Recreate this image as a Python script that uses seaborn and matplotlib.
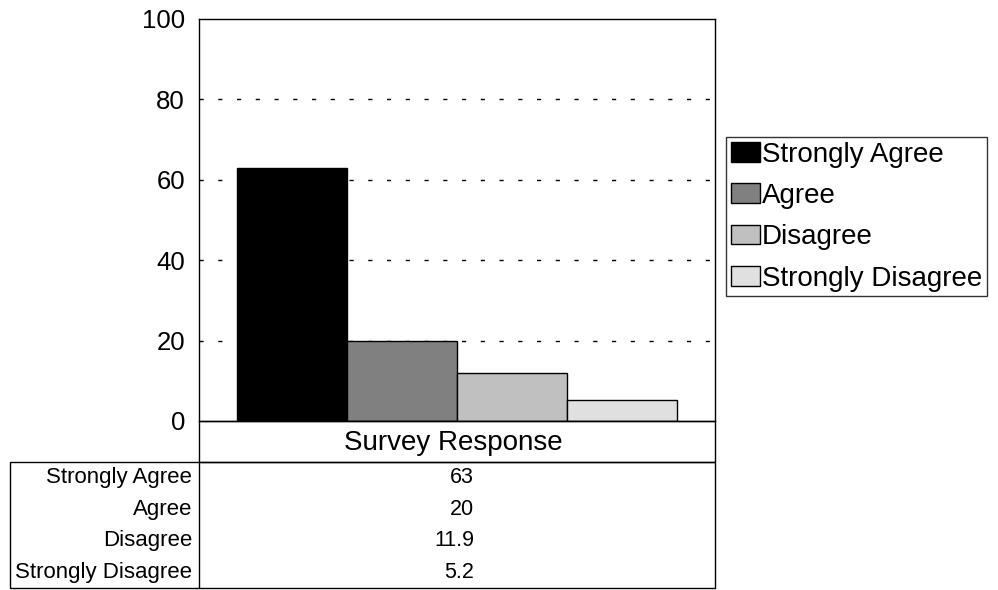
import matplotlib
matplotlib.use("Agg")
import matplotlib.pyplot as plt
from matplotlib.patches import Rectangle
from matplotlib.lines import Line2D
import seaborn as sns
import pandas as pd

# data
responses = ["Strongly Agree", "Agree", "Disagree", "Strongly Disagree"]
values = [63, 20, 11.9, 5.2]
value_labels = ["63", "20", "11.9", "5.2"]
group = "Survey Response"
colors = ["#000000", "#808080", "#c0c0c0", "#e0e0e0"]
y_ticks = [0, 20, 40, 60, 80, 100]

df = pd.DataFrame({"group": [group] * len(responses), "response": responses, "value": values})

sns.set_style("white")
plt.rcParams['font.family'] = ['Liberation Sans', 'DejaVu Sans']
plt.rcParams['text.color'] = 'black'
plt.rcParams['ytick.color'] = 'black'
plt.rcParams['ytick.labelcolor'] = 'black'

W, H = 998, 590
fig = plt.figure(figsize=(W / 100, H / 100), dpi=100)

def fx(px):
    return px / W

def fy(py):
    return 1 - py / H

# plot area in pixels
left, right, top, bottom = 199, 715, 19, 421
ax = fig.add_axes([fx(left), fy(bottom), fx(right - left), (bottom - top) / H])

sns.barplot(data=df, x="group", y="value", hue="response", hue_order=responses,
            palette=dict(zip(responses, colors)), width=0.853, gap=0,
            edgecolor="black", linewidth=1, saturation=1, ax=ax)

ax.set_ylim(0, 100)
ax.set_xlim(-0.5, 0.5)
ax.set_yticks(y_ticks)
ax.tick_params(axis="y", length=0, pad=10, labelsize=18.5, labelcolor="black")
ax.set_xticks([])
ax.set_xlabel("")
ax.set_ylabel("")
for s in ax.spines.values():
    s.set_color("black")
    s.set_linewidth(1)
ax.set_axisbelow(True)
for yv in y_ticks[1:-1]:
    ax.axhline(yv, color="black", linestyle=(0, (3, 10.5)), linewidth=1, zorder=0)

handles, labels = ax.get_legend_handles_labels()
ax.get_legend().remove()
leg = fig.legend(handles, labels, loc="upper left",
                 bbox_to_anchor=(fx(726), fy(137)), fontsize=20,
                 frameon=True, fancybox=False, edgecolor="black",
                 handlelength=1.05, handleheight=0.72, handletextpad=0.08,
                 borderpad=0.17, labelspacing=0.55, borderaxespad=0)
leg.get_frame().set_linewidth(1)
for t in leg.get_texts():
    t.set_color("black")

# data table under the chart
hdr_bottom = 462
tbl_left, tbl_bottom = 10, 588
lw = 1
fig.add_artist(Rectangle((fx(left), fy(hdr_bottom)), fx(right - left), (hdr_bottom - bottom) / H,
                         transform=fig.transFigure, fill=False, edgecolor="black", linewidth=lw))
fig.add_artist(Rectangle((fx(tbl_left), fy(tbl_bottom)), fx(right - tbl_left), (tbl_bottom - hdr_bottom) / H,
                         transform=fig.transFigure, fill=False, edgecolor="black", linewidth=lw))
fig.add_artist(Line2D([fx(left), fx(left)], [fy(hdr_bottom), fy(tbl_bottom)],
                      transform=fig.transFigure, color="black", linewidth=lw))
fig.text(fx(453.5), fy((bottom + hdr_bottom) / 2 + 1), group,
         ha="center", va="center", fontsize=20, color="black")

row_h = (tbl_bottom - hdr_bottom) / len(responses)
for i, (lab, val) in enumerate(zip(responses, value_labels)):
    yc = hdr_bottom + row_h * (i + 0.5)
    fig.text(fx(192), fy(yc), lab, ha="right", va="center", fontsize=16, color="black")
    fig.text(fx(474), fy(yc), val, ha="right", va="center", fontsize=15.5, color="black")

fig.savefig("out.png", dpi=100)
